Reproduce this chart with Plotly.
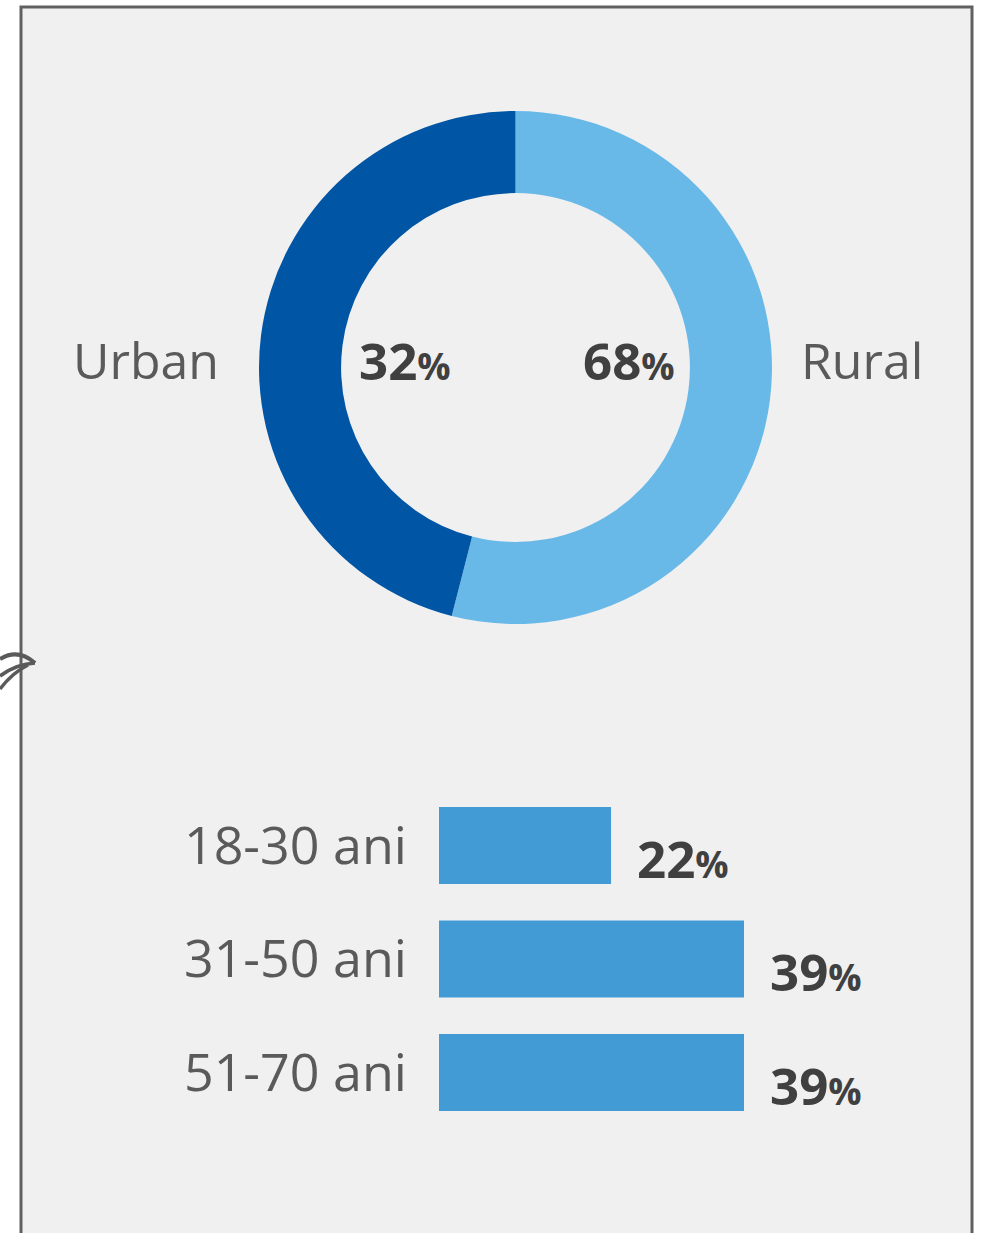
import plotly.graph_objects as go

W, H = 982, 1233

# Donut data
donut_labels = ["Rural", "Urban"]
donut_pct_text = ["68", "32"]          # printed percentages
donut_slice_share = [54, 46]           # slice sizes as drawn in the picture
donut_colors = ["#69b9e8", "#0055a5"]

# Age bar data
age_groups = ["18-30 ani", "31-50 ani", "51-70 ani"]
age_pct = [22, 39, 39]
bar_color = "#439bd5"


def px(x):
    return x / W


def py(y):
    return 1 - y / H


fig = go.Figure()

# Donut
cx, cy, R = 515.5, 367.5, 256.5
fig.add_trace(go.Pie(
    labels=donut_labels,
    values=donut_slice_share,
    marker=dict(colors=donut_colors, line=dict(width=0)),
    hole=0.68,
    sort=False,
    direction="clockwise",
    rotation=0,
    textinfo="none",
    hoverinfo="label",
    showlegend=False,
    domain=dict(x=[px(cx - R), px(cx + R)], y=[py(cy + R), py(cy - R)]),
))

# Bars
fig.add_trace(go.Bar(
    x=age_pct,
    y=age_groups,
    orientation="h",
    marker=dict(color=bar_color, line=dict(width=0)),
    showlegend=False,
    hoverinfo="x+y",
))

label_font = dict(family="Open Sans", size=50, color="#5a5a5a")
tick_font = dict(family="Open Sans", size=52, color="#5a5a5a")
num_color = "#404040"

fig.update_layout(
    width=W, height=H,
    margin=dict(l=0, r=0, t=0, b=0),
    paper_bgcolor="white",
    plot_bgcolor="rgba(0,0,0,0)",
    bargap=0.32,
    xaxis=dict(domain=[px(439), px(744)], range=[0, 39], visible=False, fixedrange=True),
    yaxis=dict(
        domain=[py(1129.25), py(788.75)],
        autorange="reversed",
        showgrid=False, zeroline=False, showline=False,
        ticks="", tickfont=tick_font,
        ticklabelstandoff=31,
        fixedrange=True,
    ),
)

shapes = [
    dict(type="rect", xref="paper", yref="paper",
         x0=px(21), x1=px(972), y0=py(1260), y1=py(7),
         line=dict(color="#606060", width=3), fillcolor="#f0f0f0", layer="below"),
]

arrow_paths = [
    (f"M {px(0)},{py(659)} Q {px(18)},{py(648)} {px(35)},{py(663)}", 4),
    (f"M {px(0)},{py(676)} Q {px(16)},{py(664)} {px(35)},{py(663)}", 3.5),
    (f"M {px(0)},{py(689)} Q {px(12)},{py(673)} {px(28)},{py(665)}", 3.5),
]
for p, w in arrow_paths:
    shapes.append(dict(type="path", xref="paper", yref="paper", path=p,
                       line=dict(color="#5a5a5a", width=w)))

fig.update_layout(shapes=shapes)


def pct_html(n, small=37):
    return f"<b>{n}</b><span style='font-size:{small}px'><b>%</b></span>"


annotations = [
    dict(text="Urban", x=px(221), y=py(360), xref="paper", yref="paper",
         xanchor="right", yanchor="middle", showarrow=False, font=label_font),
    dict(text="Rural", x=px(799), y=py(360), xref="paper", yref="paper",
         xanchor="left", yanchor="middle", showarrow=False, font=label_font),
    dict(text=pct_html(donut_pct_text[1]), x=px(357), y=py(360), xref="paper", yref="paper",
         xanchor="left", yanchor="middle", showarrow=False,
         font=dict(family="Open Sans", size=51, color=num_color)),
    dict(text=pct_html(donut_pct_text[0]), x=px(581), y=py(360), xref="paper", yref="paper",
         xanchor="left", yanchor="middle", showarrow=False,
         font=dict(family="Open Sans", size=51, color=num_color)),
]
for g, v in zip(age_groups, age_pct):
    annotations.append(dict(
        text=pct_html(v), x=v, y=g, xref="x", yref="y",
        xanchor="left", yanchor="middle", xshift=24, yshift=-12, showarrow=False,
        font=dict(family="Open Sans", size=51, color=num_color)))

fig.update_layout(annotations=annotations)

fig.write_html(
    "out.html",
    config={"displayModeBar": False},
    post_script="document.body.style.margin='0';document.body.style.overflow='hidden';",
)
